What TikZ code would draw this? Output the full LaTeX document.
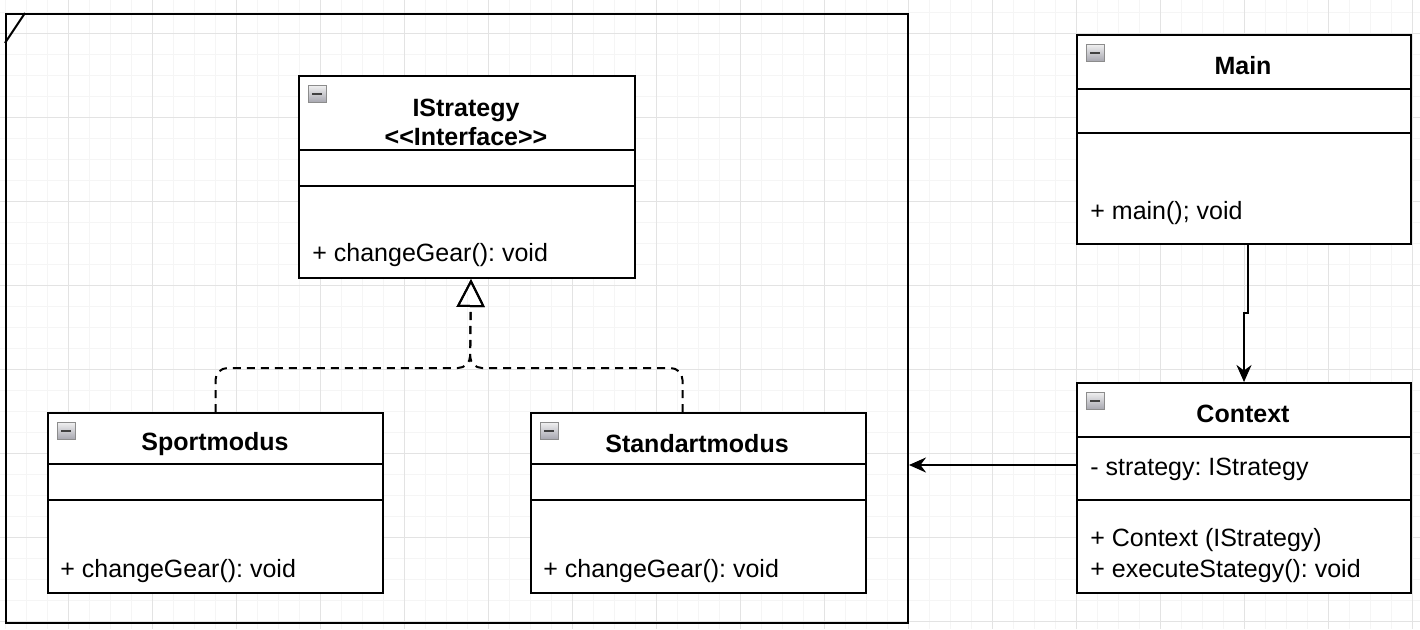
\documentclass[tikz,border=0pt]{standalone}
\usepackage{fontspec}
\setmainfont{Liberation Sans}
\usetikzlibrary{arrows.meta, positioning}
\frenchspacing

\begin{document}
\begin{tikzpicture}[
    x=0.5pt, y=-0.5pt,
    >=Stealth,
    font=\fontsize{12.5}{14.5}\selectfont,
    gridminor/.style={draw=black!4, line width=0.5pt},
    gridmajor/.style={draw=black!11, line width=0.5pt},
    classbox/.style={rectangle, draw, line width=1pt, fill=white, anchor=north west, inner sep=0pt},
    classtitle/.style={font=\fontsize{12.5}{14.5}\selectfont\bfseries, align=center, inner sep=0pt, yshift=-1.5pt},
    member/.style={anchor=west, inner sep=0pt, yshift=-1.5pt},
    icon/.style={rectangle, draw=black!45, line width=0.4pt, top color=blue!4!black!6, bottom color=blue!10!black!35,
      minimum width=9pt, minimum height=8.5pt, inner sep=0pt, anchor=north west},
    divider/.style={line width=1pt},
    realize/.style={line width=1pt, dash pattern=on 4pt off 3pt, rounded corners=6pt,
      -{Triangle[open, length=14pt, width=14pt, line width=1pt]}},
    flow/.style={line width=1pt, -{Stealth[length=8.5pt, width=7.5pt]}}
  ]
    \useasboundingbox (0,0) rectangle (1420,629);

    % background grid
    \foreach \x in {5,26,...,1420} \draw[gridminor] (\x,0) -- (\x,629);
    \foreach \y in {12,33,...,629} \draw[gridminor] (0,\y) -- (1420,\y);
    \foreach \x in {68,152,...,1420} \draw[gridmajor] (\x,0) -- (\x,629);
    \foreach \y in {33,117,...,629} \draw[gridmajor] (0,\y) -- (1420,\y);

    % frame around the strategies
    \node[classbox, fill=none, minimum width=451pt, minimum height=304.5pt] (frame) at (5,13) {};
    \draw[divider] ([xshift=10pt]frame.north west) -- ([yshift=-15pt]frame.north west);

    % classes
    \node[classbox, minimum width=168pt, minimum height=101pt] (istrategy) at (298,75) {};
    \node[classbox, minimum width=167.5pt, minimum height=90pt] (sport) at (47,412) {};
    \node[classbox, minimum width=167.5pt, minimum height=90pt] (standart) at (530,412) {};
    \node[classbox, minimum width=167pt, minimum height=104.5pt] (main) at (1076,34) {};
    \node[classbox, minimum width=167pt, minimum height=105pt] (context) at (1076,382) {};

    % compartments
    \foreach \y in {150,186} \draw[divider] (istrategy.west |- 0,\y) -- (istrategy.east |- 0,\y);
    \foreach \y in {464,500} \draw[divider] (sport.west |- 0,\y) -- (sport.east |- 0,\y);
    \foreach \y in {464,500} \draw[divider] (standart.west |- 0,\y) -- (standart.east |- 0,\y);
    \foreach \y in {89,133} \draw[divider] (main.west |- 0,\y) -- (main.east |- 0,\y);
    \foreach \y in {437,500} \draw[divider] (context.west |- 0,\y) -- (context.east |- 0,\y);

    % collapse icons
    \foreach \cls in {istrategy, sport, standart, main, context} {
      \node[icon] (ic-\cls) at ([xshift=5pt, yshift=-5pt]\cls.north west) {};
      \draw[line width=1pt, black!75] ([xshift=-2.5pt]ic-\cls.center) -- ([xshift=2.5pt]ic-\cls.center);
    }

    % titles
    \node[classtitle] (t-istrategy) at (466,119.5) {IStrategy\\<\kern0pt<Interface>\kern0pt>};
    \node[classtitle] (t-sport) at (215,441) {Sportmodus};
    \node[classtitle] (t-standart) at (697,441) {Standartmodus};
    \node[classtitle] (t-main) at (1243,63) {Main};
    \node[classtitle] (t-context) at (1243,411) {Context};

    % members
    \node[member] (m-istrategy) at (312,252) {+ changeGear(): void};
    \node[member] (m-sport) at (60,568) {+ changeGear(): void};
    \node[member] (m-standart) at (543,568) {+ changeGear(): void};
    \node[member] (m-main) at (1090,210) {+ main(); void};
    \node[member] (a-context) at (1090,466) {- strategy: IStrategy};
    \node[member] (m-context1) at (1090,537) {+ Context (IStrategy)};
    \node[member] (m-context2) at (1090,568) {+ executeStategy(): void};

    % realization of the interface
    \draw[realize] (sport.north) |- (470,368) -- ([xshift=2pt]istrategy.south);
    \draw[realize] ([xshift=-8pt]standart.north) |- (470,368) -- ([xshift=2pt]istrategy.south);

    % associations
    \draw[flow] ([xshift=2pt]main.south) -- ([xshift=2pt]main.south |- 0,313) -| (context.north);
    \draw[flow] ([yshift=11.5pt]context.west) -- ([yshift=11.5pt]context.west -| frame.east);
  \end{tikzpicture}
\end{document}
